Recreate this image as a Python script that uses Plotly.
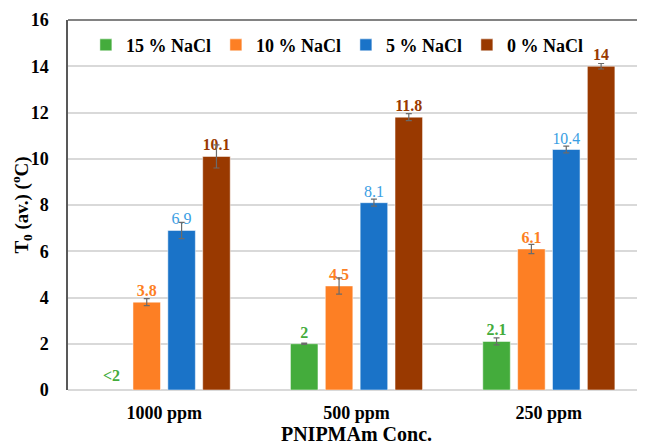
import plotly.graph_objects as go

categories = ["1000 ppm", "500 ppm", "250 ppm"]
series_names = ["15 % NaCl", "10 % NaCl", "5 % NaCl", "0 % NaCl"]
v15 = [None, 2.0, 2.1]
v10 = [3.8, 4.5, 6.1]
v5 = [6.9, 8.1, 10.4]
v0 = [10.1, 11.8, 14.0]
e15 = [0, 0.03, 0.15]
e10 = [0.15, 0.35, 0.2]
e5 = [0.35, 0.15, 0.15]
e0 = [0.5, 0.15, 0.12]
lbl15 = ["", "2", "2.1"]
lbl10 = ["3.8", "4.5", "6.1"]
lbl5 = ["6.9", "8.1", "10.4"]
lbl0 = ["10.1", "11.8", "14"]
below_label = "<2"
yticks = [0, 2, 4, 6, 8, 10, 12, 14, 16]

FONT = "Times New Roman, Liberation Serif, DejaVu Serif, serif"
bar_colors = ["#44ac3c", "#fd7f24", "#1a73c8", "#993900"]
label_colors = ["#44ac3c", "#fd7f24", "#3a9ee3", "#993900"]
label_bold = [True, True, False, True]

fig = go.Figure()
for name, vals, errs, lbls, bc, lc, bold in zip(
    series_names, [v15, v10, v5, v0], [e15, e10, e5, e0],
    [lbl15, lbl10, lbl5, lbl0], bar_colors, label_colors, label_bold):
    txt = [(f"<b>{t}</b>" if bold else t) if t else "" for t in lbls]
    fig.add_trace(go.Bar(
        x=categories, y=vals, name=f"<b>{name}</b>",
        marker=dict(color=bc, line=dict(color="rgba(255,255,255,0.5)", width=1)),
        error_y=dict(type="data", array=errs, color="#6b6b6b", thickness=1.2, width=3),
        text=txt, textposition="outside", cliponaxis=False,
        textfont=dict(family=FONT, size=16, color=lc),
    ))

fig.add_annotation(x=categories[0], y=0, yref="y", xref="x", text="<b>&lt;2</b>",
                   showarrow=False, yanchor="bottom", xshift=-53, yshift=4,
                   font=dict(family=FONT, size=16, color=label_colors[0]))

fig.add_shape(type="line", xref="paper", yref="paper", x0=0, x1=1, y0=1, y1=1,
              line=dict(color="#595959", width=1.5))

fig.update_layout(
    width=637, height=437,
    margin=dict(l=60, r=0, t=12, b=55),
    paper_bgcolor="white", plot_bgcolor="white",
    barmode="group", bargap=0.275, bargroupgap=0.21,
    font=dict(family=FONT, color="black"),
    legend=dict(orientation="h", x=0.031, y=0.932, xanchor="left", yanchor="middle",
                font=dict(family=FONT, size=18, color="black"),
                itemwidth=30, traceorder="normal", bgcolor="rgba(0,0,0,0)"),
    xaxis=dict(showline=False, showgrid=False, ticks="", automargin=False,
               tickfont=dict(family=FONT, size=18, color="black"),
               tickprefix="<b>", ticksuffix="</b>", ticklabelstandoff=10,
               title=dict(text="<b>PNIPMAm Conc.</b>", font=dict(family=FONT, size=20, color="black"), standoff=3)),
    yaxis=dict(range=[0, 16], tickvals=yticks, ticktext=[f"<b>{t}</b>" for t in yticks],
               showgrid=True, gridcolor="#d9d9d9", gridwidth=1.5, automargin=False,
               showline=True, linecolor="#595959", linewidth=1.5,
               zeroline=True, zerolinecolor="#d9d9d9", zerolinewidth=1.5,
               tickfont=dict(family=FONT, size=18, color="black"), ticks="",
               ticklabelstandoff=14,
               title=dict(text="<b>T<sub>0</sub> (av.) (<sup>o</sup>C)</b>", font=dict(family=FONT, size=19, color="black"), standoff=5)),
)
fig.write_html("out.html")
